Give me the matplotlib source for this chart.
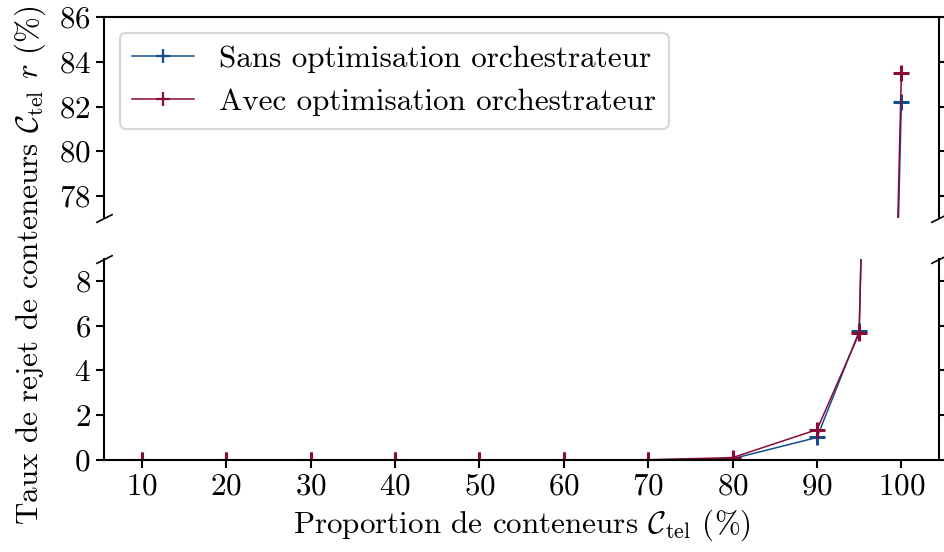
import numpy as np
import matplotlib
matplotlib.use("Agg")
import matplotlib.pyplot as plt

plt.rcParams['font.family'] = 'serif'
plt.rcParams['font.serif'] = ['cmr10', 'DejaVu Serif']
plt.rcParams['mathtext.fontset'] = 'cm'
plt.rcParams['axes.formatter.use_mathtext'] = True
plt.rcParams['font.size'] = 22.4
plt.rcParams['axes.linewidth'] = 1.5
plt.rcParams['xtick.major.width'] = 1.5
plt.rcParams['ytick.major.width'] = 1.5
plt.rcParams['xtick.major.size'] = 6
plt.rcParams['ytick.major.size'] = 6

# donnees
proportion = [10, 20, 30, 40, 50, 60, 70, 80, 90, 95, 100]
sans_optim = [0, 0, 0, 0, 0, 0, 0, 0.05, 1.0, 5.75, 82.2]
avec_optim = [0, 0, 0, 0, 0, 0, 0, 0.1, 1.35, 5.65, 83.5]
xticks = [10, 20, 30, 40, 50, 60, 70, 80, 90, 100]

c_sans = '#0e4f8c'
c_avec = '#8a0b36'

fig, (ax1, ax2) = plt.subplots(2, 1, sharex=True, figsize=(9.45, 5.52), dpi=100)
fig.subplots_adjust(left=0.110, right=0.994, top=0.969, bottom=0.167, hspace=0.2)

for ax in (ax1, ax2):
    ax.plot(proportion, sans_optim, color=c_sans, lw=1.1, marker='+', ms=12, mew=2.2,
            label='Sans optimisation orchestrateur')
    ax.plot(proportion, avec_optim, color=c_avec, lw=1.1, marker='+', ms=12, mew=2.2,
            label='Avec optimisation orchestrateur')
    ax.tick_params(right=True, direction='out')

ax1.set_ylim(77, 86)
ax2.set_ylim(0, 9)
ax1.set_yticks([78, 80, 82, 84, 86])
ax2.set_yticks([0, 2, 4, 6, 8])
ax2.set_xticks(xticks)

ax1.spines['bottom'].set_visible(False)
ax2.spines['top'].set_visible(False)
ax1.tick_params(bottom=False, labelbottom=False)

# marques de coupure
d = 0.5
kw = dict(marker=[(-1, -d), (1, d)], markersize=12, linestyle='none',
          color='k', mec='k', mew=1.2, clip_on=False)
ax1.plot([0, 1], [0, 0], transform=ax1.transAxes, **kw)
ax2.plot([0, 1], [1, 1], transform=ax2.transAxes, **kw)

leg = ax1.legend(loc='upper left', numpoints=1, handlelength=2.0, fancybox=True,
                 framealpha=0.8, edgecolor='#cccccc', borderaxespad=0.5)
leg.get_frame().set_linewidth(1.5)
for h in leg.legend_handles:
    h.set_markersize(10)
    h.set_markeredgewidth(1.6)

ax2.set_xlabel(r'Proportion de conteneurs $\mathcal{C}_\mathrm{tel}$ (%)', labelpad=5)
fig.text(0.032, 0.52, r'Taux de rejet de conteneurs $\mathcal{C}_\mathrm{tel}$ $r$ (%)',
         rotation=90, ha='center', va='center')

plt.savefig('out.png', dpi=100)
